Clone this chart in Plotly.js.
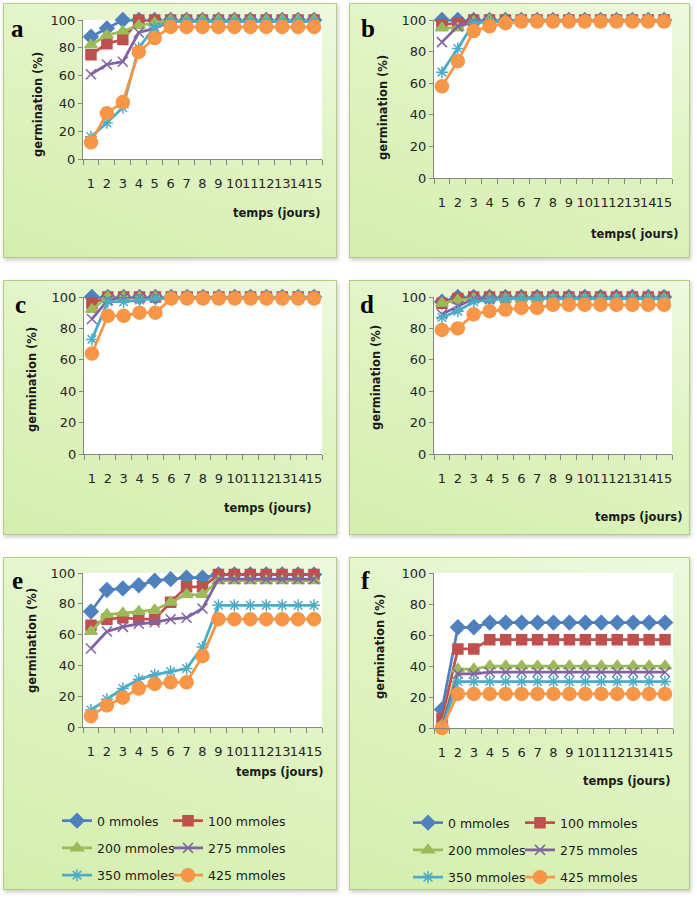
<!DOCTYPE html>
<html>
<head>
<meta charset="utf-8">
<script src="https://cdn.plot.ly/plotly-3.0.1.min.js"></script>
<style>
  html, body { margin: 0; padding: 0; background: #ffffff; }
  #wrap { position: relative; width: 697px; height: 898px; overflow: hidden; background: #ffffff; }
  .panel {
    position: absolute; box-sizing: border-box;
    border: 1px solid #b3cd88;
    background: linear-gradient(200deg, #eef9e0 0%, #e0f3c2 45%, #d4eeae 100%);
    box-shadow: 1px 2px 4px rgba(0, 0, 0, 0.22);
  }
  #chart { position: absolute; left: 0; top: 0; width: 697px; height: 898px; }
</style>
</head>
<body>
<div id="wrap"><div id="chart"></div></div>
<script>
// Days of observation
const days = [1, 2, 3, 4, 5, 6, 7, 8, 9, 10, 11, 12, 13, 14, 15];
const seriesNames = ['0 mmoles', '100 mmoles', '200 mmoles', '275 mmoles', '350 mmoles', '425 mmoles'];
const panelLetters = ['a', 'b', 'c', 'd', 'e', 'f'];

// Germination (%) per concentration, panel a
const a0   = [88, 94, 100, 100, 100, 100, 100, 100, 100, 100, 100, 100, 100, 100, 100];
const a100 = [75, 83, 86, 100, 100, 100, 100, 100, 100, 100, 100, 100, 100, 100, 100];
const a200 = [82, 89, 92, 96, 98, 100, 100, 100, 100, 100, 100, 100, 100, 100, 100];
const a275 = [61, 68, 70, 91, 94, 99, 99, 99, 99, 99, 99, 99, 99, 99, 99];
const a350 = [16, 26, 37, 80, 95, 99, 99, 99, 99, 99, 99, 99, 99, 99, 99];
const a425 = [12, 33, 41, 77, 87, 95, 95, 95, 95, 95, 95, 95, 95, 95, 95];

// panel b
const b0   = [100, 100, 100, 100, 100, 100, 100, 100, 100, 100, 100, 100, 100, 100, 100];
const b100 = [97, 98, 100, 100, 100, 100, 100, 100, 100, 100, 100, 100, 100, 100, 100];
const b200 = [95, 95, 99, 100, 100, 100, 100, 100, 100, 100, 100, 100, 100, 100, 100];
const b275 = [86, 96, 99, 99, 99, 99, 99, 99, 99, 99, 99, 99, 99, 99, 99];
const b350 = [67, 82, 98, 99, 99, 99, 99, 99, 99, 99, 99, 99, 99, 99, 99];
const b425 = [58, 74, 93, 96, 98, 99, 99, 99, 99, 99, 99, 99, 99, 99, 99];

// panel c
const c0   = [100, 100, 100, 100, 100, 100, 100, 100, 100, 100, 100, 100, 100, 100, 100];
const c100 = [96, 100, 100, 100, 100, 100, 100, 100, 100, 100, 100, 100, 100, 100, 100];
const c200 = [92, 100, 100, 100, 100, 100, 100, 100, 100, 100, 100, 100, 100, 100, 100];
const c275 = [86, 98, 100, 100, 100, 100, 100, 100, 100, 100, 100, 100, 100, 100, 100];
const c350 = [73, 97, 97, 98, 99, 99, 99, 99, 99, 99, 99, 99, 99, 99, 99];
const c425 = [64, 88, 88, 90, 90, 99, 99, 99, 99, 99, 99, 99, 99, 99, 99];

// panel d
const d0   = [97, 100, 100, 100, 100, 100, 100, 100, 100, 100, 100, 100, 100, 100, 100];
const d100 = [96, 99, 100, 100, 100, 100, 100, 100, 100, 100, 100, 100, 100, 100, 100];
const d200 = [96, 98, 99, 99, 99, 99, 99, 99, 99, 99, 99, 99, 99, 99, 99];
const d275 = [89, 94, 99, 99, 99, 99, 99, 99, 99, 99, 99, 99, 99, 99, 99];
const d350 = [87, 91, 97, 98, 99, 99, 99, 99, 99, 99, 99, 99, 99, 99, 99];
const d425 = [79, 80, 89, 91, 92, 93, 93, 95, 95, 95, 95, 95, 95, 95, 95];

// panel e
const e0   = [75, 89, 90, 92, 95, 96, 97, 97, 99, 99, 99, 99, 99, 99, 99];
const e100 = [66, 70, 71, 70, 70, 81, 91, 91, 99, 99, 99, 99, 99, 99, 99];
const e200 = [62, 73, 74, 75, 76, 81, 86, 86, 95, 95, 95, 95, 95, 95, 95];
const e275 = [51, 62, 65, 67, 68, 70, 71, 77, 96, 96, 96, 96, 96, 96, 96];
const e350 = [11, 18, 25, 31, 34, 36, 38, 52, 79, 79, 79, 79, 79, 79, 79];
const e425 = [7, 14, 19, 25, 28, 29, 29, 46, 70, 70, 70, 70, 70, 70, 70];

// panel f
const f0   = [12, 65, 65, 68, 68, 68, 68, 68, 68, 68, 68, 68, 68, 68, 68];
const f100 = [6, 51, 51, 57, 57, 57, 57, 57, 57, 57, 57, 57, 57, 57, 57];
const f200 = [2, 38, 38, 40, 40, 40, 40, 40, 40, 40, 40, 40, 40, 40, 40];
const f275 = [1, 35, 35, 36, 36, 36, 36, 36, 36, 36, 36, 36, 36, 36, 36];
const f350 = [0, 30, 30, 30, 30, 30, 30, 30, 30, 30, 30, 30, 30, 30, 30];
const f425 = [0, 22, 22, 22, 22, 22, 22, 22, 22, 22, 22, 22, 22, 22, 22];

const panelData = [
  [a0, a100, a200, a275, a350, a425],
  [b0, b100, b200, b275, b350, b425],
  [c0, c100, c200, c275, c350, c425],
  [d0, d100, d200, d275, d350, d425],
  [e0, e100, e200, e275, e350, e425],
  [f0, f100, f200, f275, f350, f425]
];

const W = 697, H = 898;
const px = x => x / W;
const py = y => 1 - y / H;

// Office 2007 series palette and marker styles
const colors = ['#4f81bd', '#c0504d', '#9bbb59', '#8064a2', '#4bacc6', '#f79646'];
const markers = [
  { symbol: 'diamond', size: 11 },
  { symbol: 'square', size: 10 },
  { symbol: 'triangle-up', size: 11 },
  { symbol: 'x-thin', size: 10 },
  { symbol: 'asterisk', size: 10 },
  { symbol: 'circle', size: 13 }
];

// Panel frames [left, top, right, bottom] and plot areas [left, top, right, bottom], in px
const frames = [
  [3, 3, 337, 258], [349, 3, 690, 258],
  [3, 280, 337, 535], [349, 280, 690, 535],
  [3, 557, 337, 890], [349, 557, 690, 890]
];
const plots = [
  [83, 20, 322, 159], [434, 20, 672, 178],
  [84, 297, 322, 454], [434, 297, 672, 454],
  [83, 573, 322, 727], [434, 573, 673, 728]
];
const letterPos = [[17, 28], [368, 28], [20, 304], [367, 305], [17, 580], [365, 580]];
const yTitlePos = [[38, 105], [383, 107], [32, 380], [376, 378], [32, 641], [380, 647]];
const xTitlePos = [[322, 213], [680, 234], [313, 508], [684, 517], [325, 772], [672, 781]];
const xTitleText = ['temps (jours)', 'temps( jours)', 'temps (jours)', 'temps (jours)', 'temps (jours)', 'temps (jours)'];

const wrap = document.getElementById('wrap');
frames.forEach(f => {
  const d = document.createElement('div');
  d.className = 'panel';
  d.style.left = f[0] + 'px';
  d.style.top = f[1] + 'px';
  d.style.width = (f[2] - f[0]) + 'px';
  d.style.height = (f[3] - f[1]) + 'px';
  wrap.insertBefore(d, document.getElementById('chart'));
});

const axisColor = '#868686';
const tickFont = { family: 'DejaVu Sans', size: 13, color: '#262626' };
const boldFont = { family: 'DejaVu Sans', size: 11.5, color: '#1a1a1a', weight: 'bold' };

const layout = {
  width: W, height: H,
  margin: { l: 0, r: 0, t: 0, b: 0 },
  paper_bgcolor: 'rgba(0,0,0,0)',
  plot_bgcolor: '#ffffff',
  showlegend: true,
  annotations: [],
  font: tickFont
};

const traces = [];
for (let p = 0; p < 6; p++) {
  const sfx = p === 0 ? '' : String(p + 1);
  const pa = plots[p];
  layout['xaxis' + sfx] = {
    domain: [px(pa[0]), px(pa[2])],
    anchor: 'y' + sfx,
    range: [0.5, 15.5],
    tickmode: 'linear', tick0: 1, dtick: 1,
    ticks: '', tickangle: 0,
    ticklabelstandoff: 12,
    showline: true, linecolor: axisColor, linewidth: 1,
    showgrid: false, zeroline: false,
    tickfont: tickFont,
    minor: { tickmode: 'linear', tick0: 0.5, dtick: 1, ticks: 'outside', ticklen: 5, tickcolor: axisColor, showgrid: false },
    fixedrange: true
  };
  layout['yaxis' + sfx] = {
    domain: [py(pa[3]), py(pa[1])],
    anchor: 'x' + sfx,
    range: [0, 100],
    tickmode: 'linear', tick0: 0, dtick: 20,
    ticks: 'outside', ticklen: 4, tickcolor: axisColor,
    showline: true, linecolor: axisColor, linewidth: 1,
    showgrid: false, zeroline: false,
    tickfont: tickFont,
    fixedrange: true
  };

  layout.annotations.push({
    text: panelLetters[p], xref: 'paper', yref: 'paper',
    x: px(letterPos[p][0]), y: py(letterPos[p][1]),
    xanchor: 'center', yanchor: 'middle', showarrow: false,
    font: { family: 'Liberation Serif', size: 25, color: '#000000', weight: 'bold' }
  });
  layout.annotations.push({
    text: 'germination (%)', xref: 'paper', yref: 'paper', textangle: -90,
    x: px(yTitlePos[p][0]), y: py(yTitlePos[p][1]),
    xanchor: 'center', yanchor: 'middle', showarrow: false, font: boldFont
  });
  layout.annotations.push({
    text: xTitleText[p], xref: 'paper', yref: 'paper',
    x: px(xTitlePos[p][0]), y: py(xTitlePos[p][1]),
    xanchor: 'right', yanchor: 'middle', showarrow: false, font: boldFont
  });

  for (let s = 0; s < 6; s++) {
    let legendRef = 'legend';
    const withLegend = p >= 4;
    if (p === 4) legendRef = (s % 2 === 0) ? 'legend' : 'legend2';
    if (p === 5) legendRef = (s % 2 === 0) ? 'legend3' : 'legend4';
    traces.push({
      type: 'scatter', mode: 'lines+markers',
      x: days, y: panelData[p][s],
      xaxis: 'x' + sfx, yaxis: 'y' + sfx,
      name: seriesNames[s],
      showlegend: withLegend,
      legend: legendRef,
      legendgroup: 'p' + p + 's' + s,
      cliponaxis: false,
      line: { color: colors[s], width: 2.75 },
      marker: {
        symbol: markers[s].symbol, size: markers[s].size, color: colors[s],
        line: { color: colors[s], width: 1.5 }
      },
      hoverinfo: 'x+y+name'
    });
  }
}

const legendBase = {
  orientation: 'v', xanchor: 'left', yanchor: 'top',
  bgcolor: 'rgba(0,0,0,0)', borderwidth: 0,
  tracegroupgap: 8,
  font: { family: 'DejaVu Sans', size: 12.5, color: '#1a1a1a' },
  itemclick: false, itemdoubleclick: false
};
layout.legend  = Object.assign({}, legendBase, { x: px(57),  y: py(806) });
layout.legend2 = Object.assign({}, legendBase, { x: px(168), y: py(806) });
layout.legend3 = Object.assign({}, legendBase, { x: px(408), y: py(808) });
layout.legend4 = Object.assign({}, legendBase, { x: px(520), y: py(808) });

Plotly.newPlot('chart', traces, layout, { displayModeBar: false, staticPlot: false });
</script>
</body>
</html>
